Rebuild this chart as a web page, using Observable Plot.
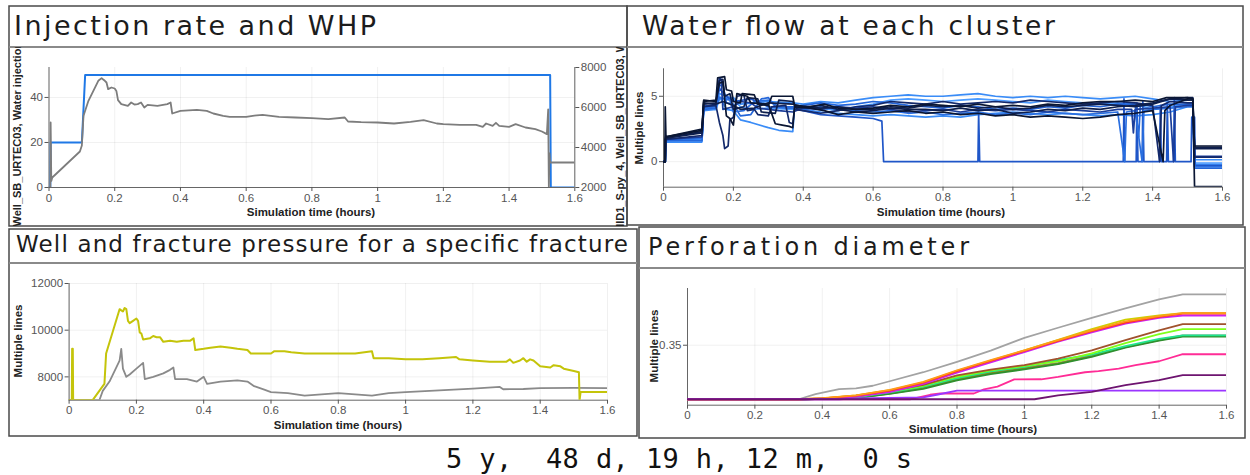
<!DOCTYPE html>
<html>
<head>
<meta charset="utf-8">
<script src="https://cdn.jsdelivr.net/npm/d3@7"></script>
<script src="https://cdn.jsdelivr.net/npm/@observablehq/plot@0.6"></script>
<style>
  html, body { margin: 0; padding: 0; background: #fff; }
  #page { position: relative; width: 1250px; height: 475px; overflow: hidden; background: #fff; }
  .chart { position: absolute; }
  .chart svg { display: block; }
  #overlay { position: absolute; left: 0; top: 0; }
</style>
</head>
<body>
<div id="page"></div>
<script>
// ---------- shared time axis and texts ----------
const TIME_TICKS = [0, 0.2, 0.4, 0.6, 0.8, 1, 1.2, 1.4, 1.6];
const TIME_LABEL = "Simulation time (hours)";
const MULTI_LABEL = "Multiple lines";
const ELAPSED_LABEL = "5 y,  48 d, 19 h, 12 m,  0 s";
const TITLES = [
  "Injection rate and WHP",
  "Water flow at each cluster",
  "Well and fracture pressure for a specific fracture",
  "Perforation diameter"
];

// ---------- Injection rate (left axis) and WHP (psi, right axis) ----------
const RATE_TICKS = [0, 20, 40];
const RATE_TOP = 53.3;
const WHP_TICKS = [2000, 4000, 6000, 8000];
const RATE_LABEL = "Well_SB_URTEC03, Water injection rate";
const WHP_LABEL = "MID1_S-py_4, Well_SB_URTEC03, Well";
const injectionRate = [[0,0],[0.004,0],[0.005,20],[0.1,20],[0.11,50],[1.525,50],[1.527,0],[1.6,0]];
const wellheadPressure = [
  [0,2000],[0.004,2000],[0.005,5250],[0.007,2330],[0.01,2500],[0.094,3800],[0.1,4100],[0.105,5585],
  [0.12,6335],[0.15,7335],[0.16,7470],[0.165,7400],[0.17,7335],[0.175,7250],[0.18,6917],[0.19,7000],
  [0.2,6950],[0.205,6830],[0.21,6370],[0.22,6170],[0.24,6085],[0.25,6250],[0.26,6150],[0.27,6170],
  [0.28,6250],[0.29,6000],[0.3,6130],[0.33,6085],[0.36,6170],[0.37,6250],[0.375,5700],[0.4,5835],
  [0.45,5885],[0.48,5835],[0.5,5700],[0.53,5585],[0.55,5535],[0.6,5535],[0.62,5585],[0.65,5635],
  [0.7,5535],[0.75,5500],[0.8,5465],[0.85,5415],[0.9,5500],[0.91,5300],[0.95,5265],[1.0,5250],
  [1.05,5200],[1.1,5285],[1.14,5370],[1.18,5200],[1.2,5165],[1.25,5135],[1.3,5135],[1.32,5035],
  [1.33,5200],[1.35,5085],[1.36,5235],[1.37,5085],[1.4,5035],[1.42,5165],[1.45,5000],[1.48,4915],
  [1.5,4800],[1.515,4670],[1.519,5900],[1.521,2000],[1.523,3700],[1.525,3250],[1.6,3250]
];

// ---------- Water flow at each cluster ----------
const FLOW_TICKS = [0, 5];
const FLOW_DOMAIN = [-1.95, 7.1];
const flowA = [[0,0],[0.004,0],[0.005,4.2],[0.007,1.9],[0.11,2.5],[0.115,4.6],[0.15,4.7],[0.155,6.4],[0.175,6.5],[0.18,5.5],[0.195,5.4],[0.2,4.6],[0.22,4.5],[0.225,5.2],[0.26,5.1],[0.27,4.4],[0.3,4.3],[0.31,5.0],[0.37,5.0],[0.375,4.3],[0.42,4.2],[0.46,4.4],[0.5,4.1],[0.55,4.0],[0.6,4.1],[0.65,4.3],[0.7,4.2],[0.75,4.4],[0.8,4.3],[0.85,4.2],[0.9,4.4],[0.95,4.2],[1.0,4.3],[1.05,4.2],[1.1,4.4],[1.15,4.3],[1.2,4.5],[1.25,4.6],[1.3,4.6],[1.35,4.7],[1.4,4.6],[1.44,4.9],[1.5,4.9],[1.515,4.8],[1.52,1.2],[1.6,1.2]];
const flowB = [[0,0],[0.005,0],[0.006,1.8],[0.11,2.3],[0.115,4.4],[0.15,4.5],[0.16,6.2],[0.17,6.3],[0.175,5.0],[0.19,5.2],[0.2,4.0],[0.23,4.2],[0.24,4.9],[0.27,4.8],[0.28,3.8],[0.32,3.7],[0.33,4.7],[0.37,4.6],[0.38,4.1],[0.45,4.3],[0.5,4.0],[0.55,3.8],[0.6,3.9],[0.65,4.1],[0.7,4.0],[0.75,4.0],[0.8,3.9],[0.85,4.1],[0.9,3.9],[0.95,4.0],[1.0,3.7],[1.05,3.8],[1.1,4.0],[1.15,3.9],[1.2,4.1],[1.25,4.0],[1.3,4.2],[1.35,4.3],[1.4,4.5],[1.45,4.8],[1.5,4.7],[1.515,4.7],[1.52,1.0],[1.6,1.0]];
const flowC = [[0,0],[0.005,0],[0.006,1.7],[0.11,2.0],[0.115,4.2],[0.15,4.3],[0.16,3.0],[0.17,2.0],[0.175,1.0],[0.185,1.2],[0.19,3.2],[0.2,3.4],[0.21,5.0],[0.23,5.1],[0.24,3.9],[0.26,4.0],[0.27,3.6],[0.3,3.5],[0.31,4.2],[0.35,4.3],[0.36,3.0],[0.37,2.9],[0.375,4.0],[0.4,3.9],[0.45,3.7],[0.5,3.9],[0.55,4.2],[0.6,4.3],[0.65,4.6],[0.7,4.5],[0.75,4.4],[0.8,4.6],[0.85,4.4],[0.9,4.5],[0.95,4.6],[1.0,4.5],[1.05,4.7],[1.1,4.6],[1.15,4.5],[1.2,4.4],[1.25,4.5],[1.3,4.6],[1.35,4.5],[1.4,4.3],[1.42,0],[1.425,4.3],[1.45,4.6],[1.5,4.5],[1.515,4.5],[1.52,0.35],[1.6,0.35]];
const flowD = [[0,0],[0.005,0],[0.006,1.7],[0.11,1.8],[0.115,4.3],[0.15,4.2],[0.16,5.6],[0.18,5.0],[0.2,4.6],[0.25,4.8],[0.3,4.2],[0.37,4.1],[0.4,3.9],[0.45,3.6],[0.5,3.5],[0.55,3.4],[0.6,3.3],[0.625,3.1],[0.63,0],[0.9,0],[0.902,3.8],[0.905,0],[1.316,0],[1.318,4.8],[1.32,0],[1.353,0],[1.355,4.5],[1.358,0],[1.37,0],[1.372,4.6],[1.375,0],[1.42,0],[1.422,4.3],[1.425,0],[1.44,0],[1.442,4.5],[1.445,0],[1.46,0],[1.462,4.9],[1.465,0],[1.51,0],[1.512,3.4],[1.52,3.4],[1.522,-0.3],[1.6,-0.3]];
const flowE = [[0,0],[0.005,0],[0.006,1.6],[0.11,1.6],[0.115,4.0],[0.15,4.1],[0.16,5.8],[0.17,5.9],[0.18,4.5],[0.2,4.4],[0.22,3.5],[0.25,3.6],[0.28,4.8],[0.3,4.9],[0.32,4.2],[0.37,4.2],[0.4,4.3],[0.45,4.5],[0.5,4.3],[0.55,4.4],[0.6,4.6],[0.65,4.5],[0.7,4.3],[0.75,4.2],[0.8,4.1],[0.85,4.3],[0.9,4.2],[0.95,4.0],[1.0,4.1],[1.05,4.0],[1.1,4.2],[1.15,4.1],[1.2,4.3],[1.25,4.2],[1.3,4.4],[1.35,4.4],[1.36,1.9],[1.365,4.4],[1.4,4.2],[1.45,4.4],[1.5,4.4],[1.515,4.4],[1.52,-0.5],[1.6,-0.5]];
const flowF = [[0,0],[0.005,0],[0.006,1.5],[0.11,1.5],[0.115,3.9],[0.15,4.0],[0.16,4.8],[0.2,4.9],[0.22,4.4],[0.3,4.6],[0.37,4.5],[0.4,4.4],[0.45,4.6],[0.5,4.5],[0.55,4.7],[0.6,4.9],[0.65,5.0],[0.7,5.1],[0.75,5.0],[0.8,5.0],[0.85,5.1],[0.9,5.2],[0.95,5.0],[1.0,4.9],[1.05,5.0],[1.1,4.9],[1.15,5.0],[1.2,4.9],[1.25,4.8],[1.3,4.9],[1.35,5.0],[1.4,4.8],[1.45,4.6],[1.5,4.7],[1.515,4.7],[1.52,0.15],[1.6,0.15]];
const flowG = [[0,0],[0.005,0],[0.006,1.6],[0.11,1.7],[0.115,4.1],[0.15,4.0],[0.16,5.0],[0.18,4.0],[0.2,3.9],[0.22,3.2],[0.25,3.0],[0.3,2.6],[0.33,2.4],[0.37,2.3],[0.375,4.1],[0.4,4.0],[0.45,3.8],[0.5,3.7],[0.55,3.6],[0.6,3.5],[0.65,3.6],[0.7,3.5],[0.75,3.4],[0.8,3.5],[0.85,3.4],[0.9,3.6],[0.95,3.7],[1.0,3.8],[1.05,3.7],[1.1,3.6],[1.15,3.7],[1.2,3.6],[1.25,3.5],[1.3,3.6],[1.35,3.5],[1.4,3.6],[1.45,3.8],[1.5,4.2],[1.515,4.2],[1.52,-0.2],[1.6,-0.2]];
const flowH = [[0,0],[0.005,0],[0.006,1.9],[0.11,2.4],[0.115,4.7],[0.15,4.6],[0.16,6.0],[0.17,6.1],[0.18,3.5],[0.19,3.3],[0.2,2.8],[0.21,5.2],[0.24,5.0],[0.25,4.5],[0.3,4.4],[0.32,2.9],[0.34,2.8],[0.36,2.7],[0.37,2.6],[0.375,4.2],[0.42,4.1],[0.46,3.9],[0.5,3.6],[0.55,3.8],[0.6,3.7],[0.65,3.8],[0.7,3.9],[0.75,3.7],[0.8,3.8],[0.85,3.6],[0.9,3.7],[0.95,3.5],[1.0,3.6],[1.05,3.4],[1.1,3.5],[1.15,3.4],[1.2,3.3],[1.25,3.4],[1.3,3.6],[1.35,3.7],[1.4,3.9],[1.43,0],[1.435,3.9],[1.45,4.3],[1.5,4.8],[1.515,4.8],[1.52,-1.9],[1.6,-1.9]];
const flowI = [[0,0],[0.005,0],[0.006,1.7],[0.11,1.9],[0.115,4.2],[0.15,4.4],[0.16,6.4],[0.165,6.3],[0.17,4.0],[0.2,4.2],[0.22,4.6],[0.25,4.5],[0.27,4.1],[0.3,4.0],[0.33,3.9],[0.37,3.8],[0.4,4.1],[0.45,4.0],[0.5,4.2],[0.55,4.1],[0.6,4.2],[0.65,4.0],[0.7,3.8],[0.75,3.9],[0.8,4.0],[0.85,3.8],[0.9,4.0],[0.95,3.9],[1.0,4.0],[1.05,3.9],[1.1,3.8],[1.15,4.0],[1.2,3.9],[1.25,3.8],[1.3,4.0],[1.34,4.0],[1.345,2.2],[1.35,4.0],[1.4,4.1],[1.45,4.2],[1.46,0],[1.465,4.2],[1.5,4.3],[1.515,4.3],[1.52,0.4],[1.6,0.4]];
const flowJ = [[0,0],[0.005,0],[0.006,1.6],[0.11,1.6],[0.115,4.0],[0.15,4.1],[0.16,5.2],[0.2,4.8],[0.22,4.2],[0.25,4.0],[0.3,4.1],[0.37,4.0],[0.4,4.2],[0.45,4.1],[0.5,3.9],[0.55,4.2],[0.6,4.4],[0.65,4.7],[0.7,4.8],[0.75,4.7],[0.8,4.6],[0.85,4.7],[0.9,4.8],[0.95,4.7],[1.0,4.6],[1.05,4.5],[1.1,4.7],[1.15,4.6],[1.2,4.5],[1.25,4.4],[1.3,4.5],[1.35,4.4],[1.4,4.0],[1.45,4.2],[1.5,4.4],[1.515,4.4],[1.52,-0.1],[1.6,-0.1]];
const flowK = [[0,0],[0.005,0],[0.006,1.8],[0.11,2.2],[0.115,4.5],[0.15,4.4],[0.17,4.6],[0.2,4.3],[0.22,4.0],[0.26,4.1],[0.3,4.5],[0.37,4.4],[0.4,4.2],[0.45,4.1],[0.5,4.2],[0.55,4.0],[0.6,4.0],[0.65,4.2],[0.7,4.1],[0.75,4.3],[0.8,4.2],[0.85,4.3],[0.9,4.1],[0.95,4.2],[1.0,4.0],[1.05,4.1],[1.1,4.3],[1.15,4.2],[1.2,4.3],[1.25,4.4],[1.3,4.3],[1.35,4.2],[1.4,4.4],[1.45,4.8],[1.5,4.9],[1.515,4.9],[1.52,1.1],[1.6,1.1]];
const flowL = [[0,0],[0.005,0],[0.006,1.7],[0.11,1.8],[0.115,4.1],[0.15,4.2],[0.16,4.9],[0.19,4.7],[0.2,3.8],[0.23,3.9],[0.26,4.6],[0.3,4.7],[0.33,4.2],[0.37,4.1],[0.4,4.0],[0.45,4.2],[0.5,4.0],[0.55,3.9],[0.6,3.8],[0.65,3.9],[0.7,3.7],[0.75,3.8],[0.8,3.6],[0.85,3.7],[0.9,3.8],[0.95,3.6],[1.0,3.7],[1.05,3.6],[1.1,3.8],[1.15,3.7],[1.2,3.6],[1.25,3.7],[1.3,3.8],[1.32,0],[1.325,3.8],[1.35,3.9],[1.37,0],[1.375,3.9],[1.4,4.0],[1.45,4.1],[1.5,4.2],[1.515,4.2],[1.52,-0.4],[1.6,-0.4]];
// light lines first so the darker clusters sit on top
const FLOW_SERIES = [
  [flowF, "#3a8cf7"], [flowG, "#3a8cf7"], [flowJ, "#4b9bff"],
  [flowD, "#1f56c8"], [flowE, "#2466d9"], [flowL, "#2a6fe0"], [flowI, "#1b3d99"],
  [flowC, "#13296b"], [flowB, "#0e1f4d"], [flowK, "#0e1f4d"], [flowH, "#0a1633"], [flowA, "#0a1633"]
];

// ---------- Well and fracture pressure (psi) ----------
const PRESSURE_TICKS = [8000, 10000, 12000];
const PRESSURE_DOMAIN = [7000, 12000];
const wellPressure = [
  [0,7000],[0.008,7000],[0.009,9200],[0.011,9200],[0.012,7000],[0.07,7000],[0.1,7600],[0.105,7700],
  [0.11,9000],[0.15,10900],[0.155,10850],[0.16,10800],[0.165,10950],[0.17,10900],[0.175,10400],[0.18,10300],
  [0.19,10400],[0.2,10500],[0.205,10400],[0.21,9900],[0.215,9850],[0.22,9600],[0.24,9650],[0.25,9750],
  [0.26,9700],[0.27,9700],[0.28,9500],[0.3,9550],[0.32,9500],[0.34,9550],[0.36,9550],[0.37,9650],
  [0.375,9150],[0.4,9200],[0.42,9250],[0.45,9300],[0.48,9250],[0.5,9200],[0.53,9150],[0.54,9000],
  [0.6,9000],[0.61,9100],[0.64,9100],[0.66,9050],[0.7,9000],[0.75,9000],[0.8,9000],[0.85,9000],
  [0.9,9100],[0.905,8800],[0.95,8800],[1.0,8750],[1.05,8750],[1.1,8800],[1.15,8850],[1.16,8750],
  [1.2,8700],[1.25,8650],[1.3,8650],[1.31,8750],[1.32,8600],[1.34,8700],[1.35,8800],[1.36,8650],
  [1.37,8750],[1.38,8700],[1.4,8450],[1.43,8400],[1.44,8500],[1.46,8450],[1.47,8350],[1.5,8250],
  [1.515,8200],[1.517,7000],[1.52,7350],[1.6,7350]
];
const fracturePressure = [
  [0,7000],[0.09,7000],[0.1,7400],[0.12,7800],[0.15,8700],[0.155,9200],[0.16,8350],[0.17,8000],
  [0.18,8100],[0.2,8350],[0.22,8600],[0.225,7900],[0.25,8000],[0.28,8150],[0.3,8300],[0.31,8400],
  [0.315,7900],[0.35,7900],[0.38,7800],[0.4,8000],[0.41,7700],[0.45,7800],[0.5,7850],[0.53,7800],
  [0.55,7600],[0.58,7450],[0.6,7350],[0.65,7300],[0.7,7200],[0.75,7250],[0.8,7300],[0.85,7250],
  [0.9,7200],[0.95,7300],[1.0,7350],[1.1,7420],[1.2,7500],[1.28,7570],[1.29,7470],[1.35,7480],
  [1.4,7520],[1.5,7530],[1.6,7520]
];

// ---------- Perforation diameter ----------
const DIAMETER_TICKS = [0.35];
const DIAMETER_DOMAIN = [0.3167, 0.3815];
const diaGray = [[0,.32],[.33,.32],[.38,.3228],[.45,.3256],[.5,.326],[.55,.3275],[.6,.33],[.7,.335],[.8,.3408],[.9,.347],[1.0,.3541],[1.1,.3597],[1.2,.3652],[1.3,.3704],[1.4,.3754],[1.47,.3782],[1.6,.3782]];
const diaGray2 = [[0,.32],[.35,.32],[.5,.3207],[.6,.3234],[.7,.3265],[.8,.3315],[.9,.335],[1.0,.3376],[1.1,.3402],[1.2,.3442],[1.3,.349],[1.4,.353],[1.47,.3554],[1.6,.3554]];
const diaOlive = [[0,.32],[.35,.32],[.5,.3208],[.6,.3232],[.7,.3262],[.8,.331],[.9,.3345],[1.0,.3371],[1.1,.3398],[1.2,.3439],[1.3,.3491],[1.4,.3528],[1.47,.3552],[1.6,.3552]];
const diaDarkGreen = [[0,.32],[.35,.32],[.5,.3206],[.6,.323],[.7,.3258],[.8,.3305],[.9,.334],[1.0,.3366],[1.1,.3395],[1.2,.3435],[1.3,.3487],[1.4,.3525],[1.47,.3548],[1.6,.3548]];
const diaSpring = [[0,.32],[.35,.32],[.5,.321],[.6,.3238],[.7,.327],[.8,.3318],[.9,.3355],[1.0,.338],[1.1,.3418],[1.2,.3448],[1.3,.3495],[1.4,.3535],[1.47,.3555],[1.6,.3555]];
const diaLime = [[0,.32],[.33,.32],[.4,.3203],[.5,.3213],[.6,.3242],[.7,.3275],[.8,.3325],[.9,.336],[1.0,.3385],[1.1,.341],[1.2,.3455],[1.3,.3512],[1.4,.3562],[1.47,.3589],[1.6,.3589]];
const diaBrown = [[0,.32],[.33,.32],[.4,.3204],[.5,.3215],[.6,.3245],[.7,.328],[.8,.3333],[.9,.3365],[1.0,.339],[1.1,.3425],[1.2,.3472],[1.3,.3528],[1.4,.3583],[1.47,.3617],[1.6,.3617]];
const diaYellow = [[0,.32],[.33,.32],[.4,.3205],[.5,.3221],[.6,.325],[.7,.3294],[.8,.3358],[.9,.3415],[1.0,.3471],[1.1,.353],[1.2,.359],[1.3,.3642],[1.4,.3665],[1.47,.3678],[1.6,.3678]];
const diaMagenta = [[0,.32],[.35,.32],[.45,.3208],[.5,.3215],[.6,.324],[.7,.3285],[.8,.3348],[.9,.3405],[1.0,.3462],[1.1,.352],[1.2,.3572],[1.3,.362],[1.4,.3652],[1.47,.3665],[1.6,.3665]];
const diaRed = [[0,.32],[.33,.32],[.4,.3205],[.5,.322],[.6,.3248],[.7,.3292],[.8,.3356],[.9,.3413],[1.0,.3468],[1.1,.3524],[1.2,.3578],[1.3,.3625],[1.4,.3658],[1.47,.3676],[1.6,.3676]];
const diaOrange = [[0,.32],[.33,.32],[.4,.3206],[.5,.3222],[.6,.3252],[.7,.3297],[.8,.3361],[.9,.3417],[1.0,.3472],[1.1,.3528],[1.2,.3583],[1.3,.3632],[1.4,.3662],[1.47,.3678],[1.6,.3678]];
const diaPink = [[0,.32],[.66,.32],[.72,.3225],[.75,.3232],[.85,.3232],[.88,.3255],[.92,.327],[.97,.331],[1.05,.3311],[1.1,.3324],[1.18,.335],[1.22,.3356],[1.28,.337],[1.33,.339],[1.4,.3411],[1.47,.345],[1.6,.345]];
const diaViolet = [[0,.32],[.45,.32],[.5,.3205],[.7,.321],[.74,.3225],[.8,.3248],[1.6,.3248]];
const diaDarkPurple = [[0,.32],[1.03,.32],[1.1,.3222],[1.2,.3241],[1.3,.3278],[1.35,.3292],[1.4,.3306],[1.47,.3334],[1.6,.3334]];
const DIAMETER_SERIES = [
  [diaGray, "#a3a3a3"], [diaGray2, "#8e8e8e"], [diaOlive, "#8a8a14"], [diaDarkGreen, "#2f8f2f"],
  [diaSpring, "#1ee68c"], [diaLime, "#80ff1a"], [diaBrown, "#a0522d"], [diaYellow, "#cfcf00"],
  [diaMagenta, "#cc22ee"], [diaRed, "#ff3b1f"], [diaOrange, "#ff9a1a"], [diaPink, "#ff2c96"],
  [diaViolet, "#9b35ff"], [diaDarkPurple, "#6e1470"]
];

// ---------- layout ----------
const PANELS = [
  {x: 9,   y: 6,   w: 618, h: 220, line: 47,  title: {x: 14,  y: 35,  size: 27,   len: 362}},
  {x: 627, y: 6,   w: 616, h: 219, line: 47,  title: {x: 642, y: 35,  size: 26.5, len: 413}},
  {x: 9,   y: 229, w: 628, h: 207, line: 263, title: {x: 16,  y: 252, size: 23,   len: 612}},
  {x: 639, y: 227, w: 606, h: 211, line: 268, title: {x: 648, y: 255, size: 24,   len: 321}}
];
const MARGINS = [
  {ml: 39.5, mr: 52.7, mt: 20,   mb: 39},
  {ml: 36,   mr: 21,   mt: 21.3, mb: 38.3},
  {ml: 59.6, mr: 30,   mt: 20,   mb: 36.3},
  {ml: 48,   mr: 19,   mt: 20,   mb: 33.3}
];

const page = document.getElementById("page");
const fmtTime = d3.format("~g");
const line = (data, stroke, width, y = d => d[1]) =>
  Plot.line(data, {x: d => d[0], y, stroke, strokeWidth: width, clip: true});

function chart(i, {yDomain, yTicks, yFormat, series, extra = []}) {
  const p = PANELS[i], m = MARGINS[i];
  const w = p.w, h = p.y + p.h - p.line;
  const svg = Plot.plot({
    width: w, height: h,
    marginLeft: m.ml, marginRight: m.mr, marginTop: m.mt, marginBottom: m.mb,
    style: {background: "transparent", fontFamily: "'Liberation Sans', Arial, sans-serif", fontSize: "11.5px", color: "#555", overflow: "visible"},
    x: {domain: [0, 1.6]},
    y: {domain: yDomain},
    marks: [
      Plot.gridX(TIME_TICKS, {stroke: "#000", strokeOpacity: 0.06}),
      Plot.gridY(yTicks, {stroke: "#000", strokeOpacity: 0.06}),
      Plot.ruleY([yDomain[0]], {stroke: "#666"}),
      Plot.ruleX([0], {stroke: "#666"}),
      Plot.axisX(TIME_TICKS, {tickFormat: fmtTime, tickSize: 4, tickPadding: 2, label: null}),
      Plot.axisY(yTicks, {tickFormat: yFormat, tickSize: 4, tickPadding: 2, label: null}),
      ...extra,
      ...series
    ]
  });
  const holder = document.createElement("div");
  holder.className = "chart";
  holder.style.left = p.x + "px";
  holder.style.top = p.line + "px";
  holder.appendChild(svg);
  page.appendChild(holder);
}

// WHP is drawn on the rate scale and labelled by the right-hand axis
const WHP_LO = WHP_TICKS[0], WHP_HI = WHP_TICKS[WHP_TICKS.length - 1];
const psiToRate = p => (p - WHP_LO) / (WHP_HI - WHP_LO) * RATE_TOP;
const rateToPsi = r => String(Math.round(WHP_LO + r / RATE_TOP * (WHP_HI - WHP_LO)));

chart(0, {
  yDomain: [0, RATE_TOP], yTicks: RATE_TICKS, yFormat: d3.format("d"),
  extra: [
    Plot.ruleX([1.6], {stroke: "#666"}),
    Plot.axisY(WHP_TICKS.map(psiToRate), {anchor: "right", tickFormat: rateToPsi, tickSize: 4, tickPadding: 2, label: null})
  ],
  series: [
    line(injectionRate, "#1f78e6", 2),
    line(wellheadPressure, "#7d7d7d", 1.8, d => psiToRate(d[1]))
  ]
});

chart(1, {
  yDomain: FLOW_DOMAIN, yTicks: FLOW_TICKS, yFormat: d3.format("d"),
  series: FLOW_SERIES.map(([data, color]) => line(data, color, 1.7))
});

chart(2, {
  yDomain: PRESSURE_DOMAIN, yTicks: PRESSURE_TICKS, yFormat: d3.format("d"),
  series: [
    line(fracturePressure, "#8a8a8a", 1.8),
    line(wellPressure, "#c4c40a", 2)
  ]
});

chart(3, {
  yDomain: DIAMETER_DOMAIN, yTicks: DIAMETER_TICKS, yFormat: d3.format(".2f"),
  series: DIAMETER_SERIES.map(([data, color]) => line(data, color, 1.8))
});

// ---------- frames, titles, axis captions and the elapsed-time stamp ----------
const overlay = d3.select(page).append("svg")
  .attr("id", "overlay").attr("width", 1250).attr("height", 475)
  .style("pointer-events", "none");
const defs = overlay.append("defs");
PANELS.forEach((p, i) => {
  defs.append("clipPath").attr("id", "area" + i)
    .append("rect").attr("x", p.x).attr("y", p.line).attr("width", p.w).attr("height", p.y + p.h - p.line);
  overlay.append("rect")
    .attr("x", p.x).attr("y", p.y).attr("width", p.w).attr("height", p.h)
    .attr("fill", "none").attr("stroke", "#4a4a4a").attr("stroke-width", 1.5);
  overlay.append("line")
    .attr("x1", p.x).attr("x2", p.x + p.w).attr("y1", p.line).attr("y2", p.line)
    .attr("stroke", "#8a8a8a").attr("stroke-width", 2);
  overlay.append("text")
    .attr("x", p.title.x).attr("y", p.title.y)
    .attr("font-family", "'DejaVu Sans', sans-serif").attr("font-size", p.title.size)
    .attr("fill", "#1c1c1c")
    .attr("textLength", p.title.len).attr("lengthAdjust", "spacing")
    .text(TITLES[i]);
});

const axisFont = g => g.attr("font-family", "'Liberation Sans', Arial, sans-serif")
  .attr("font-weight", "bold").attr("font-size", 11.5).attr("fill", "#222");

// x-axis captions
[[311, 216], [941, 216], [338, 429], [973, 433]].forEach(([x, y]) => {
  overlay.append("text").call(axisFont)
    .attr("x", x).attr("y", y).attr("text-anchor", "middle").text(TIME_LABEL);
});

// y-axis captions (rotated, clipped to the chart area)
const vlabel = (i, x, y, anchor, text, size = 11.5) =>
  overlay.append("g").attr("clip-path", `url(#area${i})`)
    .append("text").call(axisFont).attr("font-size", size)
    .attr("transform", `translate(${x},${y}) rotate(-90)`)
    .attr("text-anchor", anchor).text(text);
vlabel(0, 20.5, 226.5, "start", RATE_LABEL, 11);
vlabel(0, 624, 233, "start", WHP_LABEL, 11);
vlabel(1, 642.5, 128, "middle", MULTI_LABEL);
vlabel(2, 21.5, 341, "middle", MULTI_LABEL);
vlabel(3, 658, 346, "middle", MULTI_LABEL);

overlay.append("text")
  .attr("x", 446).attr("y", 468)
  .attr("font-family", "'DejaVu Sans Mono', monospace").attr("font-size", 27)
  .attr("fill", "#111").attr("xml:space", "preserve").style("white-space", "pre")
  .attr("textLength", 466).attr("lengthAdjust", "spacing")
  .text(ELAPSED_LABEL);
</script>
</body>
</html>
